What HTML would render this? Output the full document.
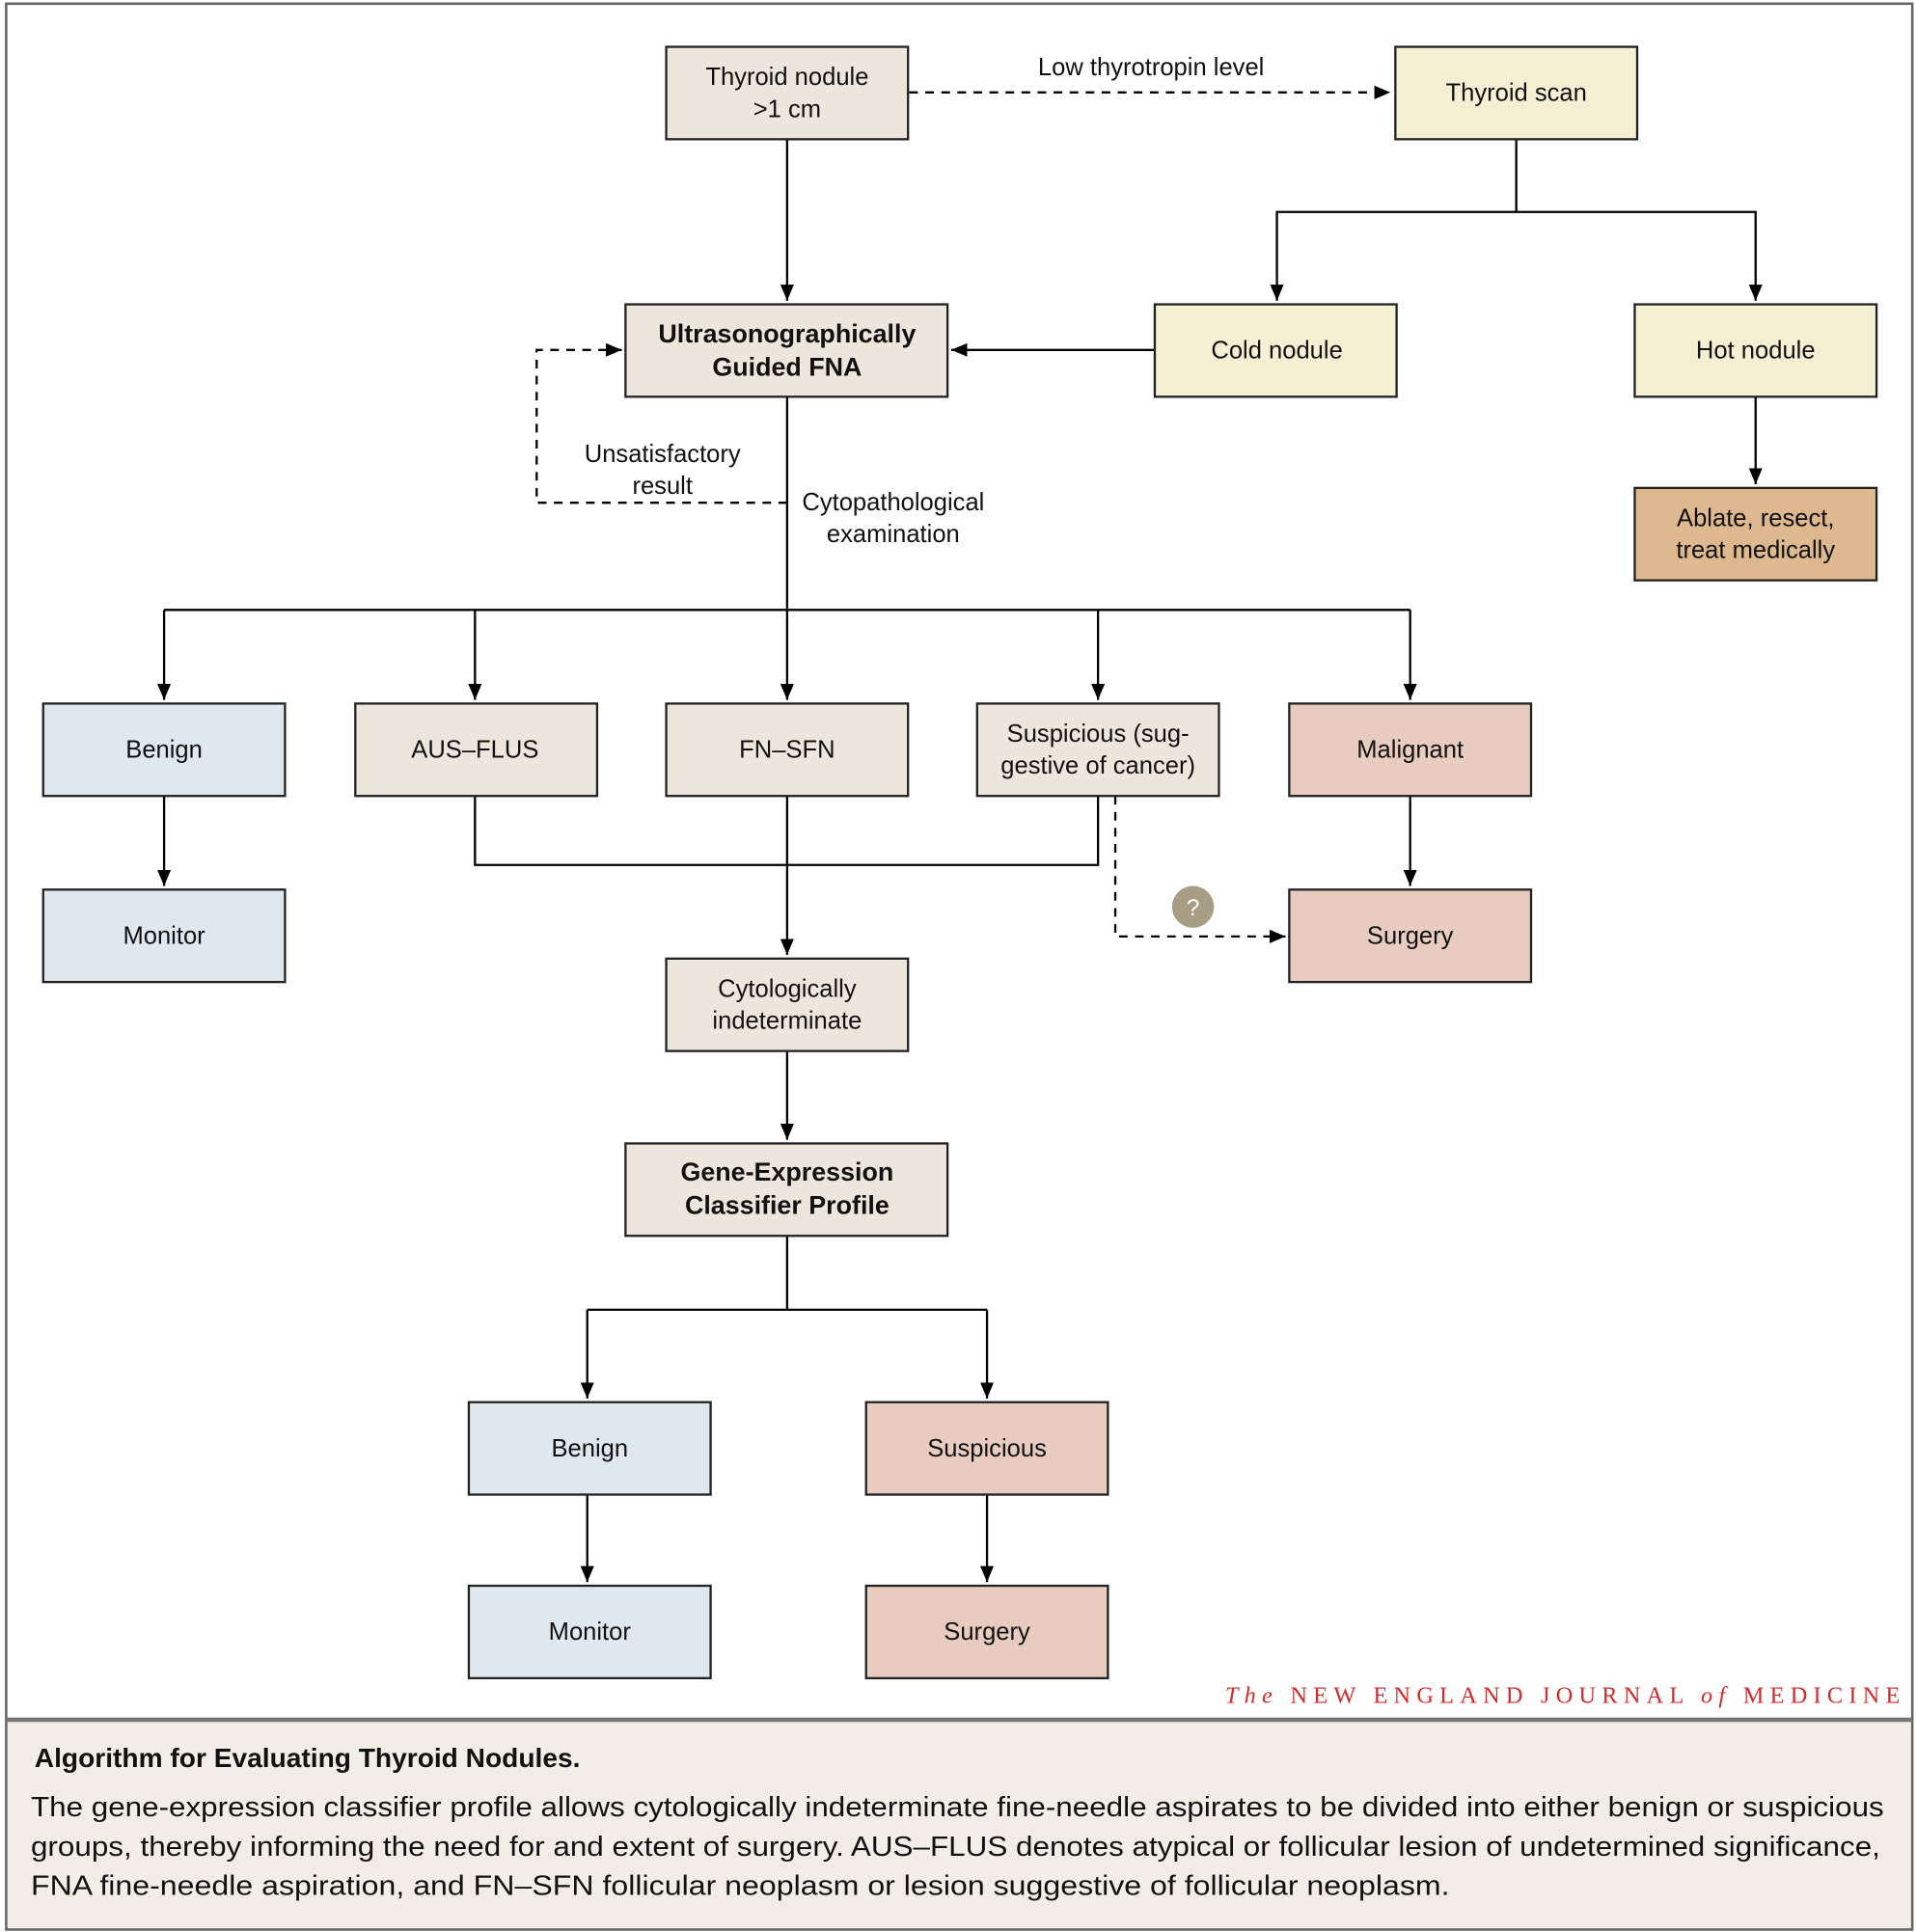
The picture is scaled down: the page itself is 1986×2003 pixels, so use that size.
<!DOCTYPE html>
<html><head><meta charset="utf-8"><style>
html,body{margin:0;padding:0;background:#fff}
svg{display:block}
text{font-family:"Liberation Sans",sans-serif;fill:#111}
</style></head><body>
<svg width="1986" height="2003" viewBox="0 0 1553 1568" preserveAspectRatio="none" xmlns="http://www.w3.org/2000/svg">
<defs><marker id="a" markerWidth="13" markerHeight="11" refX="13" refY="5.5" orient="auto" markerUnits="userSpaceOnUse"><path d="M0,0 L13,5.5 L0,11 z" fill="#000"/></marker></defs>
<rect x="5" y="3" width="1545" height="1392" fill="#fff" stroke="#666" stroke-width="2"/>
<rect x="5" y="1396" width="1545" height="170" fill="#f3ede7" stroke="#666" stroke-width="2"/>
<line x1="5" y1="1396" x2="1550" y2="1396" stroke="#777" stroke-width="3"/>
<g stroke="#000" stroke-width="1.8" fill="none">
<line x1="638" y1="113" x2="638" y2="244" marker-end="url(#a)"/>
<line x1="737" y1="75" x2="1127" y2="75" stroke-dasharray="7,6" marker-end="url(#a)"/>
<polyline points="1229,113 1229,172 1035,172 1035,244" marker-end="url(#a)"/>
<polyline points="1229,172 1423,172 1423,244" marker-end="url(#a)"/>
<line x1="1423" y1="322" x2="1423" y2="393" marker-end="url(#a)"/>
<line x1="936" y1="284" x2="771" y2="284" marker-end="url(#a)"/>
<polyline points="638,408 435,408 435,284 504,284" stroke-dasharray="7,6" marker-end="url(#a)"/>
<line x1="638" y1="322" x2="638" y2="568" marker-end="url(#a)"/>
<line x1="133" y1="495" x2="1143" y2="495"/>
<line x1="133" y1="495" x2="133" y2="568" marker-end="url(#a)"/>
<line x1="1143" y1="495" x2="1143" y2="568" marker-end="url(#a)"/>
<line x1="385" y1="495" x2="385" y2="568" marker-end="url(#a)"/>
<line x1="890" y1="495" x2="890" y2="568" marker-end="url(#a)"/>
<line x1="133" y1="646" x2="133" y2="719" marker-end="url(#a)"/>
<line x1="1143" y1="646" x2="1143" y2="719" marker-end="url(#a)"/>
<polyline points="385,646 385,702 890,702 890,646"/>
<line x1="638" y1="646" x2="638" y2="775" marker-end="url(#a)"/>
<polyline points="904,646 904,760 1042,760" stroke-dasharray="7,6" marker-end="url(#a)"/>
<line x1="638" y1="853" x2="638" y2="925" marker-end="url(#a)"/>
<line x1="476" y1="1063" x2="800" y2="1063"/>
<line x1="476" y1="1063" x2="476" y2="1135" marker-end="url(#a)"/>
<line x1="800" y1="1063" x2="800" y2="1135" marker-end="url(#a)"/>
<line x1="638" y1="1003" x2="638" y2="1063"/>
<line x1="476" y1="1213" x2="476" y2="1284" marker-end="url(#a)"/>
<line x1="800" y1="1213" x2="800" y2="1284" marker-end="url(#a)"/>
</g>
<g stroke="#222" stroke-width="1.8">
<rect x="540" y="38" width="196" height="75" fill="#ede6dc"/>
<rect x="1131" y="38" width="196" height="75" fill="#f5f0d4"/>
<rect x="507" y="247" width="261" height="75" fill="#ede6dc"/>
<rect x="936" y="247" width="196" height="75" fill="#f5f0d4"/>
<rect x="1325" y="247" width="196" height="75" fill="#f5f0d4"/>
<rect x="1325" y="396" width="196" height="75" fill="#deb88f"/>
<rect x="35" y="571" width="196" height="75" fill="#dfe8ee"/>
<rect x="288" y="571" width="196" height="75" fill="#ede6dc"/>
<rect x="540" y="571" width="196" height="75" fill="#ede6dc"/>
<rect x="792" y="571" width="196" height="75" fill="#ede6dc"/>
<rect x="1045" y="571" width="196" height="75" fill="#e8ccc0"/>
<rect x="35" y="722" width="196" height="75" fill="#dfe8ee"/>
<rect x="1045" y="722" width="196" height="75" fill="#e8ccc0"/>
<rect x="540" y="778" width="196" height="75" fill="#ede6dc"/>
<rect x="507" y="928" width="261" height="75" fill="#ede6dc"/>
<rect x="380" y="1138" width="196" height="75" fill="#dfe8ee"/>
<rect x="702" y="1138" width="196" height="75" fill="#e8ccc0"/>
<rect x="380" y="1287" width="196" height="75" fill="#dfe8ee"/>
<rect x="702" y="1287" width="196" height="75" fill="#e8ccc0"/>
</g>
<circle cx="967" cy="736" r="17" fill="#a89e86"/>
<text x="967" y="743" font-size="19" text-anchor="middle" style="fill:#fff">?</text>
<g font-size="20" text-anchor="middle">
<text x="638" y="69">Thyroid nodule</text><text x="638" y="95">&gt;1 cm</text>
<text x="933" y="61">Low thyrotropin level</text>
<text x="1229" y="82">Thyroid scan</text>
<text x="638" y="278" font-weight="bold" font-size="21">Ultrasonographically</text><text x="638" y="305" font-weight="bold" font-size="21">Guided FNA</text>
<text x="1035" y="291">Cold nodule</text>
<text x="1423" y="291">Hot nodule</text>
<text x="1423" y="427">Ablate, resect,</text><text x="1423" y="453">treat medically</text>
<text x="537" y="375">Unsatisfactory</text><text x="537" y="401">result</text>
<text x="724" y="414">Cytopathological</text><text x="724" y="440">examination</text>
<text x="133" y="615">Benign</text>
<text x="385" y="615">AUS–FLUS</text>
<text x="638" y="615">FN–SFN</text>
<text x="890" y="602">Suspicious (sug-</text><text x="890" y="628">gestive of cancer)</text>
<text x="1143" y="615">Malignant</text>
<text x="133" y="766">Monitor</text>
<text x="1143" y="766">Surgery</text>
<text x="638" y="809">Cytologically</text><text x="638" y="835">indeterminate</text>
<text x="638" y="958" font-weight="bold" font-size="21">Gene-Expression</text><text x="638" y="985" font-weight="bold" font-size="21">Classifier Profile</text>
<text x="478" y="1182">Benign</text>
<text x="800" y="1182">Suspicious</text>
<text x="478" y="1331">Monitor</text>
<text x="800" y="1331">Surgery</text>
</g>
<text x="993" y="1382" font-size="19" textLength="547" lengthAdjust="spacing" style="font-family:'Liberation Serif',serif;fill:#d42a2a"><tspan font-style="italic">The</tspan> NEW ENGLAND JOURNAL <tspan font-style="italic">of</tspan> MEDICINE</text>
<text x="28" y="1434" font-size="22" font-weight="bold">Algorithm for Evaluating Thyroid Nodules.</text>
<g font-size="22.5">
<text x="25" y="1474" textLength="1502" lengthAdjust="spacingAndGlyphs">The gene-expression classifier profile allows cytologically indeterminate fine-needle aspirates to be divided into either benign or suspicious</text>
<text x="25" y="1506" textLength="1499" lengthAdjust="spacingAndGlyphs">groups, thereby informing the need for and extent of surgery. AUS–FLUS denotes atypical or follicular lesion of undetermined significance,</text>
<text x="25" y="1538" textLength="1150" lengthAdjust="spacingAndGlyphs">FNA fine-needle aspiration, and FN–SFN follicular neoplasm or lesion suggestive of follicular neoplasm.</text>
</g>
</svg>
</body></html>
